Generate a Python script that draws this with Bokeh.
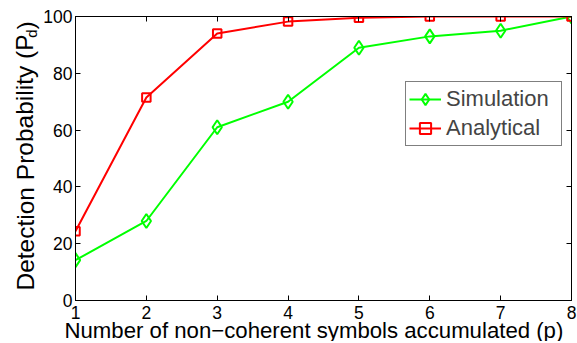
from bokeh.plotting import figure
from bokeh.layouts import row
from bokeh.models import LinearAxis, Range1d, FixedTicker, Label, Legend, LegendItem, Title
from bokeh.embed import file_html
from bokeh.resources import INLINE

# data
p_vals = [1, 2, 3, 4, 5, 6, 7, 8]
simulation = [14.2, 28.0, 61.0, 70.0, 89.0, 93.0, 95.0, 100.0]
analytical = [24.4, 71.5, 94.0, 98.2, 99.6, 100.0, 100.0, 100.0]
x_ticks = [1, 2, 3, 4, 5, 6, 7, 8]
y_ticks = [0, 20, 40, 60, 80, 100]
x_label = "Number of non\u2212coherent symbols accumulated (p)"
y_label_main = "Detection Probability (P"
y_label_sub = "d"
y_label_end = ")"

FONT = "Liberation Sans"
W_LAB = 40
H = 343

# ---- narrow figure holding the rotated y label (its frame is aligned with the main frame) ----
lab = figure(width=W_LAB, height=H, output_backend="svg", toolbar_location=None,
             x_range=Range1d(0, 1), y_range=Range1d(0, 1),
             min_border_left=0, min_border_right=0, min_border_top=16, min_border_bottom=41,
             x_axis_location=None, y_axis_location=None)
lab.xgrid.visible = False
lab.ygrid.visible = False
lab.outline_line_color = None
lab.border_fill_color = "white"
lab.background_fill_color = "white"

def ylab(x, y, text, size):
    lab.add_layout(Label(x=x, y=y, x_units="screen", y_units="screen", text=text,
                         angle=1.5708, text_font=FONT, text_font_size=size,
                         text_align="center", text_baseline="middle", text_color="black"))

ylab(24.5, 140, y_label_main, "24.5px")
ylab(31, 269, y_label_sub, "15px")
ylab(24.5, 277, y_label_end, "24.5px")

# ---- main plot ----
p = figure(width=577 - W_LAB, height=H - 2, output_backend="svg", toolbar_location=None,
           x_range=Range1d(1, 8), y_range=Range1d(0, 100),
           min_border_left=33, min_border_right=6, min_border_top=16, min_border_bottom=39,
           x_axis_location=None, y_axis_location=None)
p.xgrid.visible = False
p.ygrid.visible = False
p.outline_line_color = "black"
p.outline_line_width = 1
p.background_fill_color = "white"
p.border_fill_color = "white"

def make_axis(ticks, show_labels):
    ax = LinearAxis(ticker=FixedTicker(ticks=ticks))
    ax.major_tick_in = 5
    ax.major_tick_out = 0
    ax.minor_tick_line_color = None
    ax.axis_line_color = "black"
    ax.axis_line_width = 1
    ax.major_tick_line_color = "black"
    ax.major_label_text_font = FONT
    ax.major_label_text_font_size = "17.5px"
    if show_labels:
        ax.major_label_text_color = "black"
    else:
        ax.major_label_text_color = None
        ax.major_label_standoff = -30
    return ax

bottom = make_axis(x_ticks, True)
bottom.major_label_standoff = 5
left = make_axis(y_ticks, True)
left.major_label_standoff = 3
top = make_axis(x_ticks, False)
right = make_axis(y_ticks, False)
p.add_layout(bottom, "below")
p.add_layout(left, "left")
p.add_layout(top, "above")
p.add_layout(right, "right")

# x axis label as a left-aligned title under the axis, starting a little left of the frame
p.add_layout(Title(text=x_label, align="left", offset=-11, standoff=-12,
                   text_font=FONT, text_font_size="22.2px", text_font_style="normal",
                   text_color="black"), "below")

g_line = p.line(p_vals, simulation, line_color="#00ff00", line_width=2)
g_mark = p.scatter(p_vals, simulation, marker="diamond", size=14,
                   line_color="#00ff00", line_width=2, fill_color=None)
r_line = p.line(p_vals, analytical, line_color="#ff0000", line_width=2)
r_mark = p.scatter(p_vals, analytical, marker="square", size=8.5, line_color="#ff0000",
                   line_width=2, fill_color=None)

legend = Legend(items=[LegendItem(label="Simulation", renderers=[g_line, g_mark]),
                       LegendItem(label="Analytical", renderers=[r_line, r_mark])],
                location=(330, 154))
legend.label_text_font = FONT
legend.label_text_font_size = "22px"
legend.glyph_width = 32
legend.glyph_height = 28
legend.label_standoff = 5
legend.label_width = 112
legend.padding = 3
legend.spacing = 1
legend.margin = 0
legend.border_line_color = "black"
legend.border_line_width = 1
legend.background_fill_color = "white"
legend.background_fill_alpha = 1
p.add_layout(legend, "center")

root = row(lab, p)
open("out.html", "w").write(file_html(root, INLINE))
